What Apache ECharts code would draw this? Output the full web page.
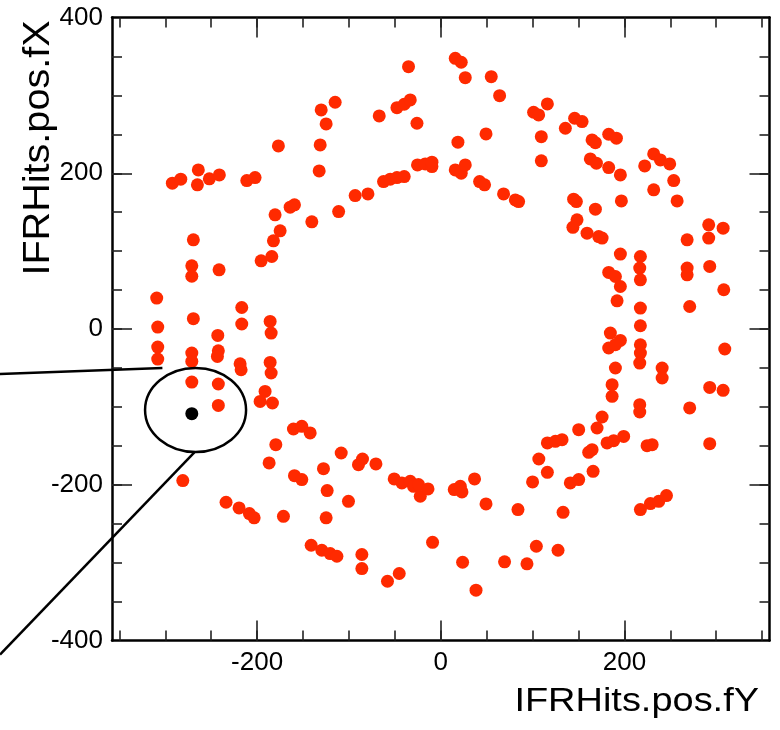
<!DOCTYPE html>
<html>
<head>
<meta charset="utf-8">
<script src="https://cdn.jsdelivr.net/npm/echarts@6/dist/echarts.min.js"></script>
<style>
html,body{margin:0;padding:0;background:#ffffff;}
#chart{width:780px;height:730px;}
</style>
</head>
<body>
<div id="chart"></div>
<script>
// IFRHits.pos.fY (horizontal) and IFRHits.pos.fX (vertical) of the red hits
const hitsFY = [
 -115.0,-130.2,-124.8,-176.8,-131.3,-132.4,-264.0,-292.3,-283.1,-265.0,
 -252.0,-241.1,-211.2,-202.2,-180.4,-164.0,-159.3,-140.4,-111.2,-174.9,
 -35.1,15.8,22.3,26.7,55.0,64.1,-67.0,-47.7,-39.8,-33.2,
 -25.9,18.7,49.3,101.1,106.6,116.1,109.5,109.5,-25.3,-16.9,
 -9.6,-9.6,15.8,22.3,26.7,-62.3,-55.0,-47.7,-39.8,42.3,
 47.7,68.4,81.2,84.8,-93.2,-79.3,135.7,145.8,153.9,164.8,
 168.4,182.9,191.3,162.9,169.5,182.9,195.6,231.9,239.2,249.3,
 222.1,253.7,231.9,257.4,144.7,147.7,168.4,196.7,148.4,143.9,
 291.8,307.5,-182.2,-195.6,-184.0,-269.4,-271.1,-271.1,-241.4,-309.3,
 -216.7,-216.7,-185.8,-184.7,-269.4,-308.2,-242.8,-308.2,-308.2,-271.1,
 -271.1,-242.2,-243.2,-218.5,-217.4,-185.8,-184.7,-271.1,-242.2,-242.2,
 -191.3,-196.7,-183.3,-160.4,-151.3,-142.2,-179.6,-186.9,-280.9,-159.3,
 -151.3,-127.7,-123.7,-108.4,-233.8,-219.6,-208.4,-203.2,-171.3,-124.8,
 -141.1,-129.5,-120.4,-113.1,-89.6,-85.2,-70.6,-100.5,-50.7,-42.3,
 -33.2,-29.6,-24.2,-22.3,-13.9,14.7,21.3,23.1,36.8,49.3,
 84.1,100.0,106.8,116.1,116.1,-85.9,-85.9,-58.0,-45.2,-8.9,
 23.8,38.4,69.5,93.9,104.1,124.8,132.1,181.1,188.3,199.2,
 161.1,164.8,165.9,141.1,150.2,133.2,127.7,224.7,230.2,292.9,
 217.4,228.3,237.4,245.8,159.3,172.0,175.7,195.6,217.4,216.7,
 217.4,182.9,190.2,195.6,192.0,217.4,217.4,184.7,195.6,182.9,
 190.2,217.4,217.4,216.7,190.2,241.1,241.1,186.6,186.6,216.7,
 216.7,175.7,170.2,150.2,268.3,291.8,268.3,268.3,292.9,308.2,
 271.1,309.3,292.9,307.5,271.1
];
const hitsFX = [
 291.2,281.3,263.3,235.1,236.4,203.0,204.3,187.3,192.4,185.1,
 192.8,197.9,190.6,194.4,146.6,156.5,159.4,137.6,150.8,126.1,
 336.9,347.6,342.5,322.7,324.0,299.6,273.6,284.2,288.6,294.1,
 264.2,239.9,250.5,278.3,274.9,289.0,247.0,215.9,210.7,212.0,
 208.6,214.2,204.3,200.1,210.7,189.3,192.4,194.4,195.7,189.3,
 185.1,173.5,165.8,163.6,171.3,173.5,257.8,270.6,266.3,242.8,
 239.3,250.1,245.0,218.4,212.9,207.3,197.9,224.8,217.1,212.0,
 209.4,190.6,178.7,164.5,166.7,163.6,153.9,164.5,140.2,130.5,
 133.8,129.5,113.2,87.6,93.1,114.5,81.1,67.7,76.0,39.7,
 27.6,6.4,9.7,-5.2,13.2,2.5,-8.3,-23.2,-38.6,-30.9,
 -41.6,-27.9,-35.2,-44.6,-52.3,-42.9,-56.5,-68.1,-70.6,-98.1,
 -80.1,-93.0,-95.0,-128.4,-125.0,-133.5,-148.5,-172.0,-194.7,-188.3,
 -193.4,-179.3,-207.5,-159.2,-222.5,-229.7,-237.0,-242.5,-240.5,-242.5,
 -277.7,-284.1,-288.4,-291.8,-174.2,-166.9,-173.3,-221.3,-192.5,-197.6,
 -195.6,-202.0,-199.8,-214.8,-205.3,-206.2,-202.0,-209.2,-192.5,-224.6,
 -231.9,-196.4,-166.9,-146.3,-184.0,-289.6,-307.6,-323.9,-314.0,-273.9,
 -299.5,-335.4,-299.0,-301.6,-279.0,-144.3,-142.1,-146.3,-143.4,-137.9,
 -158.4,-154.9,-182.8,-197.6,-193.4,-235.4,-284.1,-149.8,-148.5,-147.2,
 -231.9,-224.2,-221.3,-213.9,123.1,118.7,116.7,96.2,93.1,78.2,
 63.2,72.6,67.4,54.6,36.2,26.9,4.2,-5.2,-14.7,-24.4,
 -20.2,-20.2,-30.9,-43.7,-50.1,-50.1,-62.9,-71.5,-86.5,-97.2,
 -106.6,-113.0,-127.1,-129.3,114.5,116.7,78.2,69.6,80.3,50.4,
 28.9,-25.7,-75.0,-78.8,-101.4
];
// the highlighted (circled) hit
const selectedFY = [-271.1];
const selectedFX = [-108.7];

// axis ticks and labels
const xMajorTicks = [-200, 0, 200];
const xMinorTicks = [-350,-300,-250,-200,-150,-100,-50,0,50,100,150,200,250,300,350];
const xLabels = [-200, 0, 200];
const yMajorTicks = [-200, 0, 200];
const yMinorTicks = [-350,-300,-250,-200,-150,-100,-50,0,50,100,150,200,250,300,350];
const yLabels = [-400, -200, 0, 200, 400];

// callout annotation (data units)
const calloutLineA = [[-480, -57.8], [-303.1, -50.1]];
const calloutEllipse = {cx: -267.0, cy: -104.0, rx: 55.0, ry: 53.9};
const calloutLineB = [[-268.3, -158.4], [-480, -418.0]];

const XMIN = -358, XMAX = 358, YMIN = -400, YMAX = 400;
const RED = '#ff2a00';
const labelFont = {fontFamily: '"Liberation Sans", Arial, sans-serif', fontSize: 26, color: '#000'};
const tickStyle = {color: '#222', width: 1.6};

function mkX(pos, main, ticks, len, labels) {
  return {
    type: 'value', min: XMIN, max: XMAX, position: pos,
    axisLine: {show: main, onZero: false, lineStyle: {color: '#000', width: 2.5}},
    axisTick: {show: true, inside: true, length: len, customValues: ticks, lineStyle: tickStyle},
    axisLabel: labels ? Object.assign({show: true, customValues: labels, margin: 9}, labelFont) : {show: false},
    splitLine: {show: false}
  };
}
function mkY(pos, main, ticks, len, labels) {
  return {
    type: 'value', min: YMIN, max: YMAX, position: pos,
    axisLine: {show: main, onZero: false, lineStyle: {color: '#000', width: 2.5}},
    axisTick: {show: true, inside: true, length: len, customValues: ticks, lineStyle: tickStyle},
    axisLabel: labels ? Object.assign({show: true, customValues: labels, margin: 9, showMinLabel: true, showMaxLabel: true}, labelFont) : {show: false},
    splitLine: {show: false}
  };
}

const hitData = hitsFY.map((v, i) => [v, hitsFX[i]]);
const selData = selectedFY.map((v, i) => [v, selectedFX[i]]);

const chart = echarts.init(document.getElementById('chart'), null, {renderer: 'canvas'});
chart.setOption({
  animation: false,
  backgroundColor: '#ffffff',
  grid: {left: 112, right: 10.5, top: 17.5, bottom: 89.5, containLabel: false},
  xAxis: [
    mkX('bottom', true, xMajorTicks, 20, xLabels),
    mkX('bottom', false, xMinorTicks, 10, null),
    mkX('top', true, xMajorTicks, 20, null),
    mkX('top', false, xMinorTicks, 10, null)
  ],
  yAxis: [
    mkY('left', true, yMajorTicks, 20, yLabels),
    mkY('left', false, yMinorTicks, 10, null),
    mkY('right', true, yMajorTicks, 20, null),
    mkY('right', false, yMinorTicks, 10, null)
  ],
  series: [
    {
      name: 'IFRHits', type: 'scatter', xAxisIndex: 0, yAxisIndex: 0,
      symbol: 'circle', symbolSize: 13, data: hitData,
      itemStyle: {color: RED, opacity: 1}, emphasis: {disabled: true}, z: 3
    },
    {
      name: 'selected', type: 'scatter', xAxisIndex: 0, yAxisIndex: 0,
      symbol: 'circle', symbolSize: 13, data: selData,
      itemStyle: {color: '#000', opacity: 1}, emphasis: {disabled: true}, z: 4
    }
  ],
  graphic: [
    {
      id: 'xTitle', type: 'text', x: 759, y: 702, scaleX: 1.15, z: 10,
      style: {text: 'IFRHits.pos.fY', x: 0, y: 0, align: 'right', verticalAlign: 'middle',
              font: '33px "Liberation Sans", Arial, sans-serif', fill: '#000'}
    },
    {
      id: 'yTitle', type: 'text', x: 39, y: 148, rotation: Math.PI / 2, scaleX: 1.07, z: 10,
      style: {text: 'IFRHits.pos.fX', x: 0, y: 0, align: 'center', verticalAlign: 'middle',
              font: '37px "Liberation Sans", Arial, sans-serif', fill: '#000'}
    }
  ]
});

// callout drawn in data coordinates, converted through the chart's own axes
const toPx = p => chart.convertToPixel({seriesIndex: 0}, p);
const a0 = toPx(calloutLineA[0]), a1 = toPx(calloutLineA[1]);
const b0 = toPx(calloutLineB[0]), b1 = toPx(calloutLineB[1]);
const ec = toPx([calloutEllipse.cx, calloutEllipse.cy]);
const ex = toPx([calloutEllipse.cx + calloutEllipse.rx, calloutEllipse.cy]);
const ey = toPx([calloutEllipse.cx, calloutEllipse.cy + calloutEllipse.ry]);
const lineStyle = {stroke: '#000', lineWidth: 2.5, fill: null};
chart.setOption({
  graphic: [
    {id: 'lineA', type: 'line', z: 5, shape: {x1: a0[0], y1: a0[1], x2: a1[0], y2: a1[1]}, style: lineStyle},
    {id: 'lineB', type: 'line', z: 5, shape: {x1: b0[0], y1: b0[1], x2: b1[0], y2: b1[1]}, style: lineStyle},
    {id: 'ring', type: 'ellipse', z: 5,
     shape: {cx: ec[0], cy: ec[1], rx: Math.abs(ex[0] - ec[0]), ry: Math.abs(ey[1] - ec[1])},
     style: {stroke: '#000', lineWidth: 2.5, fill: 'none'}}
  ]
});
</script>
</body>
</html>
